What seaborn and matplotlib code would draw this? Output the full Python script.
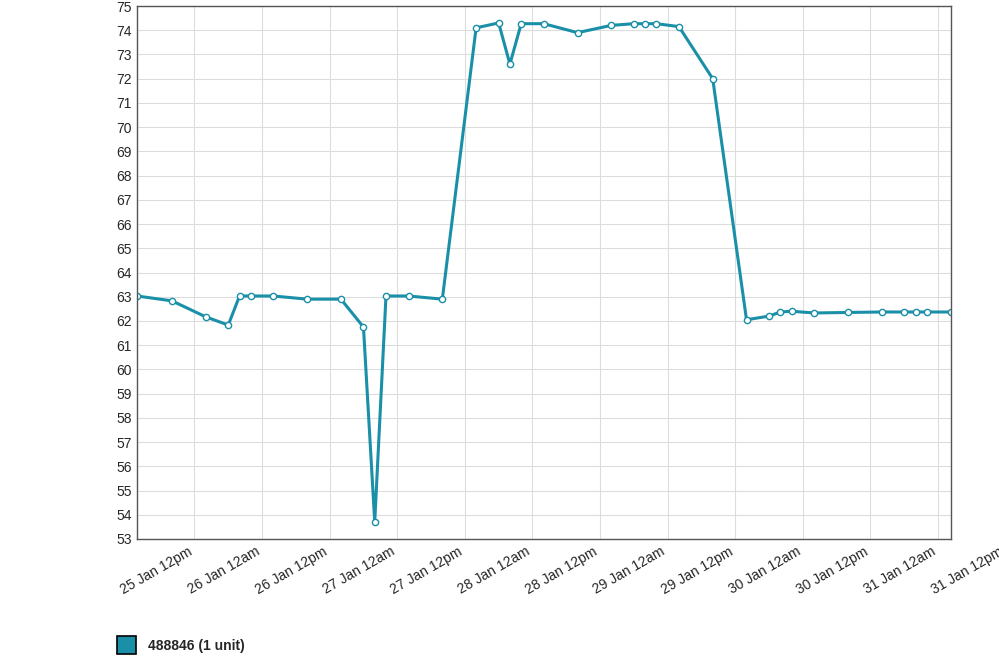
import matplotlib
matplotlib.use("Agg")
import matplotlib.pyplot as plt
import matplotlib.transforms as mtransforms
import seaborn as sns
import pandas as pd
import numpy as np

hours = [1.8, 8, 14, 18, 20, 22, 26, 32, 38, 42, 44, 46, 50, 56, 62, 66, 68, 70, 74, 80, 86, 90, 92, 94, 98, 104, 110, 114, 116, 118, 122, 128, 134, 138, 140, 142, 146.3]
values = [63.03, 62.83, 62.17, 61.83, 63.03, 63.03, 63.03, 62.9, 62.9, 61.75, 53.7, 63.03, 63.03, 62.9,
          74.1, 74.3, 72.6, 74.27, 74.27, 73.9, 74.2, 74.27, 74.27, 74.27, 74.15, 72.0,
          62.05, 62.2, 62.37, 62.4, 62.33, 62.35, 62.37, 62.37, 62.37, 62.37, 62.37]
tick_labels = ["25 Jan 12am", "25 Jan 12pm", "26 Jan 12am", "26 Jan 12pm", "27 Jan 12am", "27 Jan 12pm",
               "28 Jan 12am", "28 Jan 12pm", "29 Jan 12am", "29 Jan 12pm", "30 Jan 12am", "30 Jan 12pm", "31 Jan 12am"]
extra_label = "31 Jan 12pm"
series_name = "488846 (1 unit)"
color = "#1a8fa8"

df = pd.DataFrame({"h": hours, "v": values})
sns.set_style("white")
fig = plt.figure(figsize=(9.99, 6.68), dpi=100)
ax = fig.add_axes([137/999, 129/668, 814/999, 533/668])
sns.lineplot(data=df, x="h", y="v", ax=ax, color=color, linewidth=2.2,
             marker="o", markersize=4.5, markerfacecolor="white", markeredgecolor=color, markeredgewidth=1)
ax.set_xticks(np.arange(0, 145, 12))
ax.set_xticklabels(tick_labels, rotation=30, ha="right", fontsize=10, family="Liberation Sans")
ax.set_xlim(1.8, 146.3)
ax.set_ylim(53, 75)
ax.set_yticks(range(53, 76))
for t in ax.get_yticklabels():
    t.set_fontsize(10); t.set_family("Liberation Sans")
ax.tick_params(axis="both", length=0, pad=4)
ax.grid(True, color="#dddddd", linewidth=0.8)
ax.set_xlabel(""); ax.set_ylabel("")
for s in ax.spines.values():
    s.set_color("#555555"); s.set_linewidth(1)
trans = mtransforms.blended_transform_factory(ax.transData, ax.transAxes) + \
    mtransforms.ScaledTranslation(0, -6/100, fig.dpi_scale_trans)
ax.text(156, 0, extra_label, transform=trans, rotation=30, ha="right", va="top",
        fontsize=10, family="Liberation Sans", clip_on=False)
fig.patches.append(plt.Rectangle((117/999, 1 - 654/668), 19/999, 18/668, transform=fig.transFigure,
                                 facecolor=color, edgecolor="black", linewidth=1.2))
fig.text(148/999, 1 - 646/668, series_name, fontsize=10, fontweight="bold", va="center", family="Liberation Sans")
fig.savefig("out.png", dpi=100)
